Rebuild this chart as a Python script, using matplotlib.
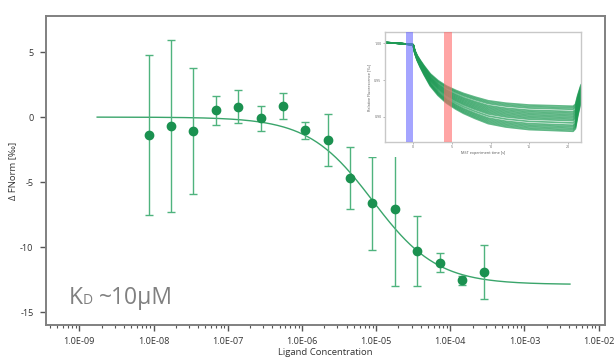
import numpy as np
import matplotlib
matplotlib.use("Agg")
import matplotlib.pyplot as plt
from matplotlib.ticker import FixedLocator, LogLocator, FuncFormatter, NullFormatter
from matplotlib.patches import Rectangle

plt.rcParams['font.family'] = ['Open Sans', 'DejaVu Sans']
plt.rcParams['axes.unicode_minus'] = False

# ligand titration (M) and normalized fluorescence change (per mille)
conc = [8.69e-9, 1.74e-8, 3.44e-8, 6.89e-8, 1.39e-7, 2.79e-7, 5.51e-7, 1.11e-6,
        2.23e-6, 4.45e-6, 8.89e-6, 1.78e-5, 3.56e-5, 7.19e-5, 1.43e-4, 2.87e-4]
dfnorm = [-1.38, -0.69, -1.08, 0.51, 0.79, -0.10, 0.85, -1.03,
          -1.77, -4.67, -6.64, -7.10, -10.33, -11.20, -12.56, -11.92]
dfnorm_err = [6.15, 6.60, 4.85, 1.13, 1.26, 0.97, 1.00, 0.66,
              1.97, 2.40, 3.60, 5.87, 2.70, 0.73, 0.35, 2.10]
x_ticks = [1e-9, 1e-8, 1e-7, 1e-6, 1e-5, 1e-4, 1e-3, 1e-2]

# fit parameters
kd = 9.0e-6
unbound = 0.0
bound = -12.88
fit_range = (1.74e-9, 4.1e-3)

# MST traces: mean trace and per-capillary depth of the thermophoresis drop
trace_time = [-3.67, -2.0, -1.0, -0.05, 0.0, 0.2, 0.5, 0.9, 1.4, 2.2, 3.2, 4.3,
              5.5, 6.5, 8.0, 9.7, 12.0, 15.0, 18.0, 20.7, 21.0, 21.3, 21.72]
trace_mean = [1.001, 1.000, 0.999, 0.998, 0.997, 0.988, 0.980, 0.972, 0.963, 0.950,
              0.939, 0.930, 0.923, 0.918, 0.912, 0.906, 0.902, 0.899, 0.898, 0.897,
              0.900, 0.915, 0.932]
trace_depth = [0.83, 0.85, 0.87, 0.90, 0.92, 0.94, 0.96, 0.98,
               1.00, 1.02, 1.05, 1.08, 1.10, 1.12, 1.14, 1.16]

W, H = 614, 358
fig = plt.figure(figsize=(W / 100, H / 100), dpi=100)

def box(l, t, r, b):
    return [l / W, 1 - b / H, (r - l) / W, (b - t) / H]

ax = fig.add_axes(box(46, 16, 605, 325))

curve_x = np.logspace(np.log10(fit_range[0]), np.log10(fit_range[1]), 300)
curve_y = unbound + (bound - unbound) * curve_x / (curve_x + kd)
ax.plot(curve_x, curve_y, color='#3aa56b', lw=1.0, zorder=2)

ax.errorbar(conc, dfnorm, yerr=dfnorm_err, fmt='none', ecolor='#4fb37e',
            elinewidth=1.0, capsize=3.0, capthick=1.0, zorder=3)
ax.plot(conc, dfnorm, 'o', color='#1b9150', ms=6.0, mec='#1b9150', zorder=4)

ax.set_xscale('log')
ax.set_xlim(10 ** -9.449, 10 ** -1.915)
ax.set_ylim(-16.0, 7.78)
ax.set_yticks([5, 0, -5, -10, -15])
ax.yaxis.set_major_formatter(FuncFormatter(lambda v, p: f"{v:.0f}"))
ax.xaxis.set_major_locator(FixedLocator(x_ticks))
ax.xaxis.set_minor_locator(LogLocator(base=10, subs=np.arange(2, 10), numticks=20))
ax.xaxis.set_major_formatter(FuncFormatter(lambda v, p: f"{v:.1E}"))
ax.xaxis.set_minor_formatter(NullFormatter())

for s in ax.spines.values():
    s.set_color('#808080')
    s.set_linewidth(1.4)
ax.tick_params(axis='both', which='major', length=4, width=1.0, color='#555555',
               labelsize=6.6, labelcolor='#333333', pad=5)
ax.tick_params(axis='x', which='minor', length=2.2, width=0.8, color='#555555')
ax.set_xlabel('Ligand Concentration', fontsize=6.8, color='#333333', labelpad=1)
ax.set_ylabel('Δ FNorm [‰]', fontsize=6.8, color='#333333', labelpad=2)

# K_D annotation with small-cap subscript
kd_color = '#808080'
fig.text(69 / W, 1 - 303.5 / H, 'K', fontsize=16.5, color=kd_color, va='baseline')
fig.text(83 / W, 1 - 303.5 / H, 'D', fontsize=10, color=kd_color, va='baseline')
fig.text(99 / W, 1 - 303.5 / H, '~10µM', fontsize=16.5, color=kd_color, va='baseline')

# white backdrop for the trace inset
fig.patches.append(Rectangle((362 / W, 1 - 157 / H), 230 / W, 132 / H,
                             transform=fig.transFigure, facecolor='white',
                             edgecolor='none', zorder=1))

ins = fig.add_axes(box(385, 32, 581, 142))
ins.set_zorder(2)
t = np.array(trace_time)
mean = np.array(trace_mean)
for d in trace_depth:
    ins.plot(t, 1 - (1 - mean) * d, color='#1f9a55', lw=1.2, alpha=0.7, zorder=2)
ins.axvspan(-1.0, 0.0, color='#6a6aff', alpha=0.6, lw=0, zorder=3)
ins.axvspan(4.0, 5.0, color='#ff6a6a', alpha=0.6, lw=0, zorder=3)
ins.set_xlim(-3.67, 21.72)
ins.set_ylim(0.866, 1.0153)
ins.set_xticks([0, 5, 10, 15, 20])
ins.set_yticks([1.00, 0.95, 0.90])
ins.yaxis.set_major_formatter(FuncFormatter(lambda v, p: f"{v:.2f}"))
for s in ins.spines.values():
    s.set_color('#c8c8c8')
    s.set_linewidth(1.0)
ins.tick_params(axis='both', length=1.5, width=0.5, color='#999999',
                labelsize=2.6, labelcolor='#666666', pad=1)
ins.set_xlabel('MST experiment time [s]', fontsize=2.8, color='#555555', labelpad=1)
ins.set_ylabel('Relative Fluorescence [‰]', fontsize=2.8, color='#555555', labelpad=2)

fig.savefig('out.png', dpi=100)
